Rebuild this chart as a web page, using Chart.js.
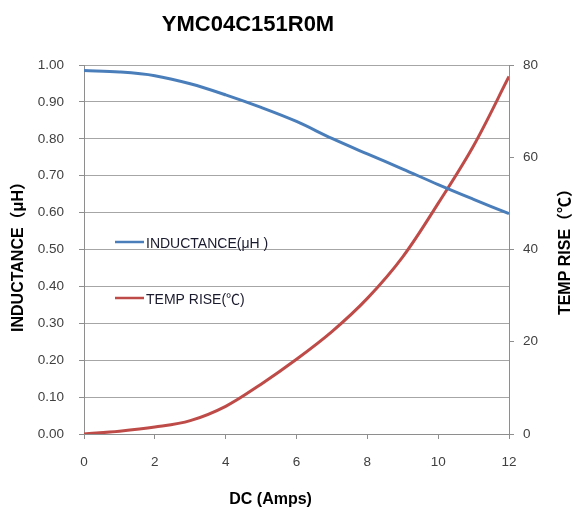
<!DOCTYPE html>
<html>
<head>
<meta charset="utf-8">
<script src="https://cdn.jsdelivr.net/npm/chart.js@4"></script>
<style>
html,body{margin:0;padding:0;background:#fff;}
#wrap{width:574px;height:509px;position:relative;}
</style>
</head>
<body>
<div id="wrap"><canvas id="c" width="574" height="509"></canvas></div>
<script>
const chartTitle = "YMC04C151R0M";
const xTitle = "DC (Amps)";
const yLeftTitle = "INDUCTANCE（μH）";
const yRightTitle = "TEMP RISE（℃）";
const legendLabels = ["INDUCTANCE(μH )", "TEMP RISE(℃)"];

const current = [0, 1, 2, 3, 4, 5, 6, 7, 8, 9, 10, 11, 12];
const inductance = [0.985, 0.981, 0.971, 0.949, 0.919, 0.885, 0.847, 0.801, 0.759, 0.718, 0.676, 0.636, 0.597];
const tempRise = [0, 0.6, 1.5, 2.9, 6.0, 10.8, 16.2, 22.2, 29.4, 38.4, 50.0, 62.5, 77.5];

const BLUE = "#4a7ebb";
const RED = "#be4b48";
const GRID = "#a6a6a6";
const AXIS = "#8e8e8e";
const TICKC = "#404040";
const FONT = "'Liberation Sans', Arial, 'Noto Sans CJK SC', sans-serif";

const textPlugin = {
  id: "texts",
  afterDraw(chart) {
    const ctx = chart.ctx;
    const a = chart.chartArea;
    ctx.save();
    ctx.fillStyle = "#000";
    ctx.textAlign = "center";
    ctx.textBaseline = "middle";
    ctx.font = "bold 22px " + FONT;
    ctx.fillText(chartTitle, 248, 25);
    ctx.font = "bold 16px " + FONT;
    ctx.fillText(xTitle, a.left + (a.right - a.left) * 0.439, 500);
    ctx.save();
    ctx.translate(19, 253);
    ctx.rotate(-Math.PI / 2);
    ctx.fillText(yLeftTitle, 0, 0);
    ctx.restore();
    ctx.save();
    ctx.translate(566, 248);
    ctx.rotate(-Math.PI / 2);
    ctx.fillText(yRightTitle, 0, 0);
    ctx.restore();
    // legend
    const items = [
      {label: legendLabels[0], color: BLUE, y: 242},
      {label: legendLabels[1], color: RED, y: 298}
    ];
    ctx.font = "14px " + FONT;
    ctx.textAlign = "left";
    items.forEach(it => {
      ctx.strokeStyle = it.color;
      ctx.lineWidth = 2.5;
      ctx.beginPath();
      ctx.moveTo(115, it.y);
      ctx.lineTo(144, it.y);
      ctx.stroke();
      ctx.fillStyle = "#1a1a2e";
      ctx.fillText(it.label, 146, it.y + 2);
    });
    ctx.restore();
  }
};

new Chart(document.getElementById("c"), {
  type: "line",
  data: {
    datasets: [
      {
        label: legendLabels[0],
        data: current.map((x, i) => ({x: x, y: inductance[i]})),
        borderColor: BLUE,
        borderWidth: 3,
        pointRadius: 0,
        tension: 0.35,
        yAxisID: "y"
      },
      {
        label: legendLabels[1],
        data: current.map((x, i) => ({x: x, y: tempRise[i]})),
        borderColor: RED,
        borderWidth: 3,
        pointRadius: 0,
        tension: 0.35,
        yAxisID: "y2"
      }
    ]
  },
  options: {
    responsive: false,
    animation: false,
    events: [],
    layout: {padding: {top: 65, left: 0, right: 0, bottom: 0}},
    plugins: {legend: {display: false}, title: {display: false}, tooltip: {enabled: false}},
    scales: {
      x: {
        type: "linear",
        min: 0, max: 12,
        afterFit(s) { s.height = 75; },
        ticks: {stepSize: 2, color: TICKC, font: {family: FONT, size: 13.5}, padding: 15, maxRotation: 0},
        grid: {drawOnChartArea: false, drawTicks: true, tickLength: 5, tickColor: AXIS},
        border: {display: true, color: AXIS}
      },
      y: {
        position: "left",
        min: 0, max: 1,
        afterFit(s) { s.width = 84; },
        ticks: {stepSize: 0.1, color: TICKC, font: {family: FONT, size: 13.5}, padding: 15,
          callback: v => v.toFixed(2)},
        grid: {color: GRID, tickColor: AXIS, tickLength: 5},
        border: {display: true, color: AXIS}
      },
      y2: {
        position: "right",
        min: 0, max: 80,
        afterFit(s) { s.width = 65; },
        ticks: {stepSize: 20, color: TICKC, font: {family: FONT, size: 13.5}, padding: 9},
        grid: {drawOnChartArea: false, tickColor: AXIS, tickLength: 5},
        border: {display: true, color: AXIS}
      }
    }
  },
  plugins: [textPlugin]
});
</script>
</body>
</html>
